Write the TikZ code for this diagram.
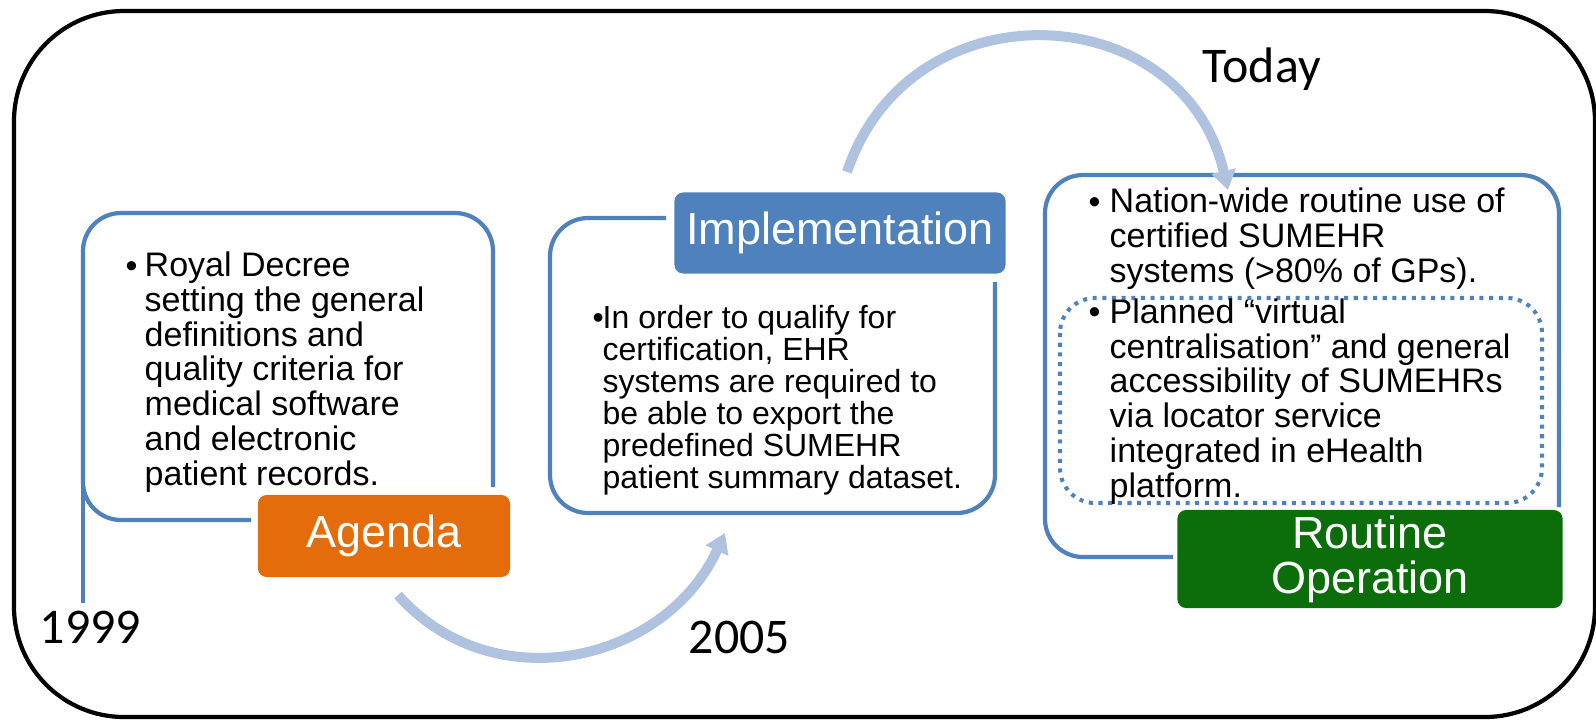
\documentclass[tikz,border=0pt]{standalone}
\usepackage{fontspec}
\setmainfont{Liberation Sans}
\newfontfamily\yearfont{Carlito}
\usetikzlibrary{arrows.meta}
\definecolor{boxblue}{HTML}{4F81BD}
\definecolor{arrowblue}{HTML}{AFC2DF}
\definecolor{agendaorange}{HTML}{E46C0A}
\definecolor{routinegreen}{HTML}{0B6E0B}
\begin{document}
\begin{tikzpicture}[x=0.01cm,y=-0.01cm,
	frame/.style={line width=1.2pt,rounded corners=1.1cm},
	stage/.style={draw=boxblue,line width=1.2pt,rounded corners=0.38cm},
	tag/.style={rectangle,rounded corners=2.5pt,text=white,inner sep=0pt,align=center,font=\fontsize{12.8}{12.8}\selectfont},
	body/.style={anchor=base west,inner sep=0pt,align=left,font=\fontsize{9.67}{9.87}\selectfont},
	small/.style={body,font=\fontsize{9.1}{9.1}\selectfont},
	year/.style={anchor=base west,inner sep=0pt,font=\yearfont\fontsize{14.2}{14.2}\selectfont},
	flow/.style={draw=arrowblue,line width=2.85pt,-{Triangle[width=6.8pt,length=5.5pt]}}]
	\useasboundingbox (0,0) rectangle (1596,720);
	\draw[frame] (14,11) rectangle (1595,717);
	
	% 1999 (text nodes sit on their last line)
	\draw[stage] (251,520) -- (83,520) -- (83,213) -- (493,213) -- (493,487);
	\draw[boxblue,line width=1.2pt] (83,300) -- (83,603);
	\node[tag,fill=agendaorange,minimum width=2.52cm,minimum height=0.82cm] (agenda) at (384,536) {Agenda};
	\node[body] (agbul) at (125,277) {\textbullet};
	\node[body] (agtext) at (144,485) {Royal Decree\\setting the general\\definitions and\\quality criteria for\\medical software\\and electronic\\patient records.};
	\node[year] (y1999) at (39,643) {1999};
	
	% 2005
	\draw[stage] (666,218) -- (550,218) -- (550,513) -- (995,513) -- (995,282);
	\node[tag,fill=boxblue,minimum width=3.31cm,minimum height=0.81cm] (impl) at (840,233) {Implementation};
	\node[small] (imbul) at (592,328) {\textbullet};
	\node[small] (imtext) at (602,488) {In order to qualify for\\certification, EHR\\systems are required to\\be able to export the\\predefined SUMEHR\\patient summary dataset.};
	\node[year] (y2005) at (688,653) {2005};
	
	% today
	\draw[stage] (1173,557) -- (1045,557) -- (1045,175) -- (1559,175) -- (1559,507);
	\draw[boxblue,line width=1.15pt,dash pattern=on 1.15pt off 1.6pt,rounded corners=0.35cm] (1060,298) rectangle (1542,503);
	\node[tag,fill=routinegreen,minimum width=3.85cm,minimum height=0.98cm] (routine) at (1370,559) {Routine\\Operation};
	\node[body] (robul1) at (1088,213) {\textbullet};
	\node[body] (rotext1) at (1109,282) {Nation-wide routine use of\\certified SUMEHR\\systems (>80\% of GPs).};
	\node[body] (robul2) at (1088,323) {\textbullet};
	\node[body] (rotext2) at (1109,497) {Planned “virtual\\centralisation” and general\\accessibility of SUMEHRs\\via locator service\\integrated in eHealth\\platform.};
	\node[year] (today) at (1202,82) {Today};
	
	% arrows
	\coordinate (agout) at (398,595); \coordinate (imin) at (725,533);
	\draw[flow] (agout) .. controls (493,702) and (665,663) .. (imin);
	\coordinate (imout) at (847,172); \coordinate (roin) at (1228,190);
	\draw[flow] (imout) .. controls (910,-17) and (1183,-4) .. (roin);
\end{tikzpicture}
\end{document}
